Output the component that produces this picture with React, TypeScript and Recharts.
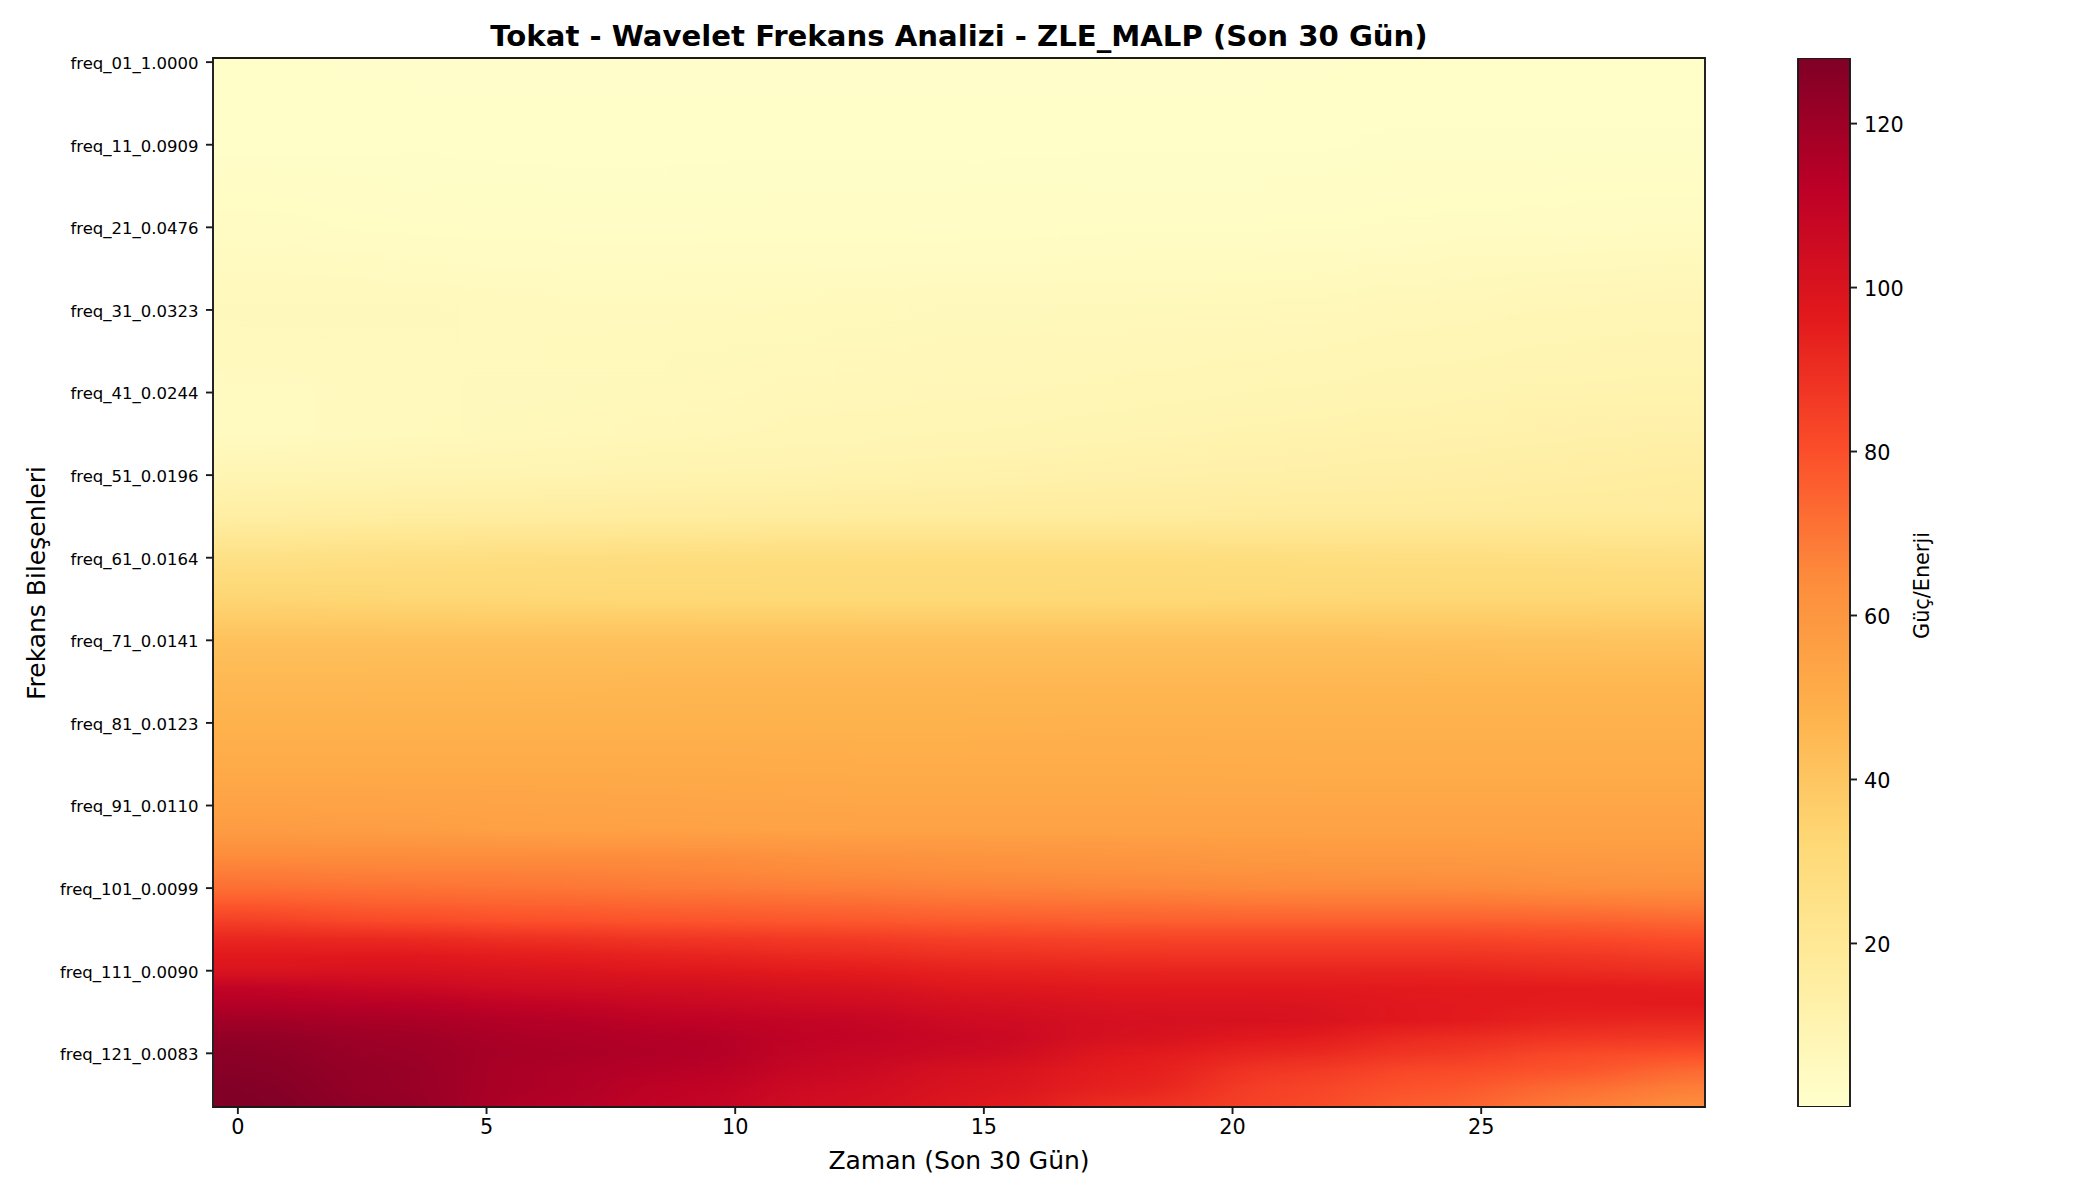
import React from 'react';
import { ScatterChart, Scatter, XAxis, YAxis, ReferenceArea, ComposedChart, Bar } from 'recharts';

const FONT = '"DejaVu Sans", sans-serif';
const TITLE = 'Tokat - Wavelet Frekans Analizi - ZLE_MALP (Son 30 Gün)';
const X_LABEL = 'Zaman (Son 30 Gün)';
const Y_LABEL = 'Frekans Bileşenleri';
const CBAR_LABEL = 'Güç/Enerji';

const xTicks = [0, 5, 10, 15, 20, 25];
const yTicks = [0, 10, 20, 30, 40, 50, 60, 70, 80, 90, 100, 110, 120];
const yTickLabels = [
  'freq_01_1.0000', 'freq_11_0.0909', 'freq_21_0.0476', 'freq_31_0.0323', 'freq_41_0.0244',
  'freq_51_0.0196', 'freq_61_0.0164', 'freq_71_0.0141', 'freq_81_0.0123', 'freq_91_0.0110',
  'freq_101_0.0099', 'freq_111_0.0090', 'freq_121_0.0083',
];
const cbarTicks = [20, 40, 60, 80, 100, 120];
const CBAR_MIN = 0.05;
const CBAR_MAX = 128;

const ylOrRd = ['#ffffcc', '#ffeda0', '#fed976', '#feb24c', '#fd8d3c', '#fc4e2a', '#e31a1c', '#bd0026', '#800026'];

const sampledCols = [0, 3, 6, 9, 12, 15, 18, 21, 24, 27, 29];
const sampledRows = [0, 10, 20, 30, 40, 45, 50, 55, 60, 65, 70, 75, 80, 85, 90, 93, 96, 98, 100, 102, 104, 106, 108, 110, 112, 114, 116, 118, 120, 122, 124, 126];

const r000 = [1, 0.8, 0.7, 0.7, 0.8, 0.8, 0.8, 0.9, 1, 1, 1];
const r010 = [1.5, 1.4, 1.3, 1.3, 1.4, 1.4, 1.5, 1.6, 1.7, 1.7, 1.8];
const r020 = [3.5, 3, 2.6, 2.5, 2.5, 2.6, 2.8, 3, 3.3, 3.6, 4];
const r030 = [6, 5.8, 5.6, 5.6, 5.7, 5.8, 6.2, 6.6, 7.2, 7.9, 8.5];
const r040 = [4.5, 5.2, 6, 6.6, 7.2, 7.8, 8.4, 9, 9.8, 10.4, 11];
const r045 = [4.5, 5.5, 6.5, 7.5, 8.5, 9.2, 10, 10.8, 11.6, 12.4, 13];
const r050 = [9, 9.5, 10, 10.5, 11, 11.7, 12.4, 13.2, 14, 15, 16];
const r055 = [15, 15.5, 16, 16.4, 16.8, 17, 17.2, 17.4, 17.6, 17.8, 18];
const r060 = [26, 27, 28, 28.5, 29, 29, 28.8, 28.4, 28, 27.5, 27];
const r065 = [33.5, 33, 32.5, 32.2, 32, 32, 32.2, 32.5, 32.8, 33, 33];
const r070 = [42, 42, 42, 42, 42, 42, 42, 41.8, 41.5, 41.2, 41];
const r075 = [45.5, 45.5, 45.6, 45.8, 46, 46, 46, 46, 46, 46, 46];
const r080 = [48, 48, 48, 48, 48, 48.2, 48.3, 48.4, 48.5, 48.5, 48.5];
const r085 = [51, 51, 51, 51, 50.8, 50.6, 50.4, 50.3, 50.2, 50.1, 50];
const r090 = [55, 54.5, 54, 53.5, 53.2, 53, 53, 53, 53, 53, 53];
const r093 = [58, 57, 56, 55.5, 55, 55, 55, 55, 55, 55, 55];
const r096 = [64, 64, 64, 63.5, 62, 61, 60, 59, 59, 58, 58];
const r098 = [68, 67, 67, 66, 64.5, 63.5, 62.5, 62, 61.5, 60.5, 60];
const r100 = [72, 71, 70, 69, 68, 67, 66, 65, 65, 64, 63];
const r102 = [78, 76, 75, 74, 73, 71.5, 71, 70, 70, 69, 68];
const r104 = [85, 82, 80, 79, 78, 77, 76, 76, 76, 75.5, 74];
const r106 = [92, 91, 89, 87, 86, 84, 83, 83, 83, 82, 80];
const r108 = [96.5, 97, 95, 93, 91, 89, 88, 88, 88, 87, 85];
const r110 = [100, 101, 100, 98, 96, 94, 93, 93, 93, 91, 90];
const r112 = [110, 107, 104, 103, 101, 98, 97, 97, 96, 96, 95];
const r114 = [114, 113, 110, 107, 105, 102, 100, 100, 97, 95.5, 96.5];
const r116 = [119, 117, 114, 111, 109, 105, 102, 101, 97, 93, 92];
const r118 = [123, 120, 116, 114, 110, 107, 101, 97, 91, 88, 87];
const r120 = [125, 121, 117, 115, 108.5, 105.5, 97, 92, 87, 82, 80];
const r122 = [126, 122, 116, 113, 107, 101, 95, 87, 82, 79, 73];
const r124 = [127.5, 122, 116, 111, 105, 100, 94, 84, 79, 73, 68];
const r126 = [128, 123, 115, 110, 103.5, 98, 90, 83, 76, 69, 64];

const rowValues = [r000, r010, r020, r030, r040, r045, r050, r055, r060, r065, r070, r075, r080, r085, r090, r093, r096, r098, r100, r102, r104, r106, r108, r110, r112, r114, r116, r118, r120, r122, r124, r126];

const cells = sampledRows.flatMap((row, ri) =>
  sampledCols.map((col, ci) => ({ col, row, ri, ci, value: rowValues[ri][ci] })),
);
const cbarData = [{ name: 'scale', top: CBAR_MAX }];

const W = 2100;
const H = 1200;
const PLOT = { left: 213, top: 58, right: 1705, bottom: 1107 };
const PX_COL = (PLOT.right - PLOT.left) / 30;
const PX_ROW = (PLOT.bottom - PLOT.top) / 127;
const AXIS_W = 150;
const AXIS_H = 50;
const LW = 1.9;

function hex(c: string) {
  return [1, 3, 5].map((i) => parseInt(c.slice(i, i + 2), 16));
}
function colorOf(v: number) {
  const t = Math.max(0, Math.min(1, v / CBAR_MAX)) * (ylOrRd.length - 1);
  const i = Math.min(ylOrRd.length - 2, Math.floor(t));
  const a = hex(ylOrRd[i]);
  const b = hex(ylOrRd[i + 1]);
  const f = t - i;
  return `rgb(${a.map((x, k) => Math.round(x + (b[k] - x) * f)).join(',')})`;
}

function HeatCell(props: any) {
  const { cx, cy, payload } = props;
  const { col, row, ri, ci, value } = payload;
  const prevCol = ci > 0 ? sampledCols[ci - 1] : null;
  const nextCol = ci < sampledCols.length - 1 ? sampledCols[ci + 1] : null;
  const x0 = prevCol === null ? cx - 300 : cx - ((col - prevCol) / 2) * PX_COL;
  const x1 = nextCol === null ? cx + 300 : cx + ((nextCol - col) / 2) * PX_COL;
  const hasNext = ri < sampledRows.length - 1;
  const yBottom = hasNext ? cy + (sampledRows[ri + 1] - row) * PX_ROW : cy + 1.5 * PX_ROW;
  const nextValue = hasNext ? rowValues[ri + 1][ci] : value;
  const id = `cell-${ri}-${ci}`;
  const topFill = colorOf(value);
  return (
    <g>
      <defs>
        <linearGradient id={id} x1="0" y1="0" x2="0" y2="1">
          <stop offset="0" stopColor={topFill} />
          <stop offset="1" stopColor={colorOf(nextValue)} />
        </linearGradient>
      </defs>
      {ri === 0 && <rect x={x0} y={cy - 12} width={x1 - x0 + 1} height={13} fill={topFill} />}
      <rect x={x0} y={cy} width={x1 - x0 + 1} height={yBottom - cy + (hasNext ? 0.8 : 0)} fill={`url(#${id})`} />
    </g>
  );
}

const tickStyle = { fontFamily: FONT, fontSize: 20.8, fill: '#000' };
const tickLine = { stroke: '#1a1a1a', strokeWidth: LW };
const INSET = LW / 2;

export default function App() {
  return (
    <div style={{ position: 'absolute', left: 0, top: 0, width: W, height: H, background: '#fff' }}>
      <style>{`.heat-layer{filter:url(#heat-blur);clip-path:url(#heat-clip);}`}</style>
      <svg width={0} height={0} style={{ position: 'absolute' }}>
        <defs>
          <filter id="heat-blur" filterUnits="userSpaceOnUse" x={-400} y={0} width={W + 800} height={H} colorInterpolationFilters="sRGB">
            <feGaussianBlur stdDeviation="43 0" />
          </filter>
          <clipPath id="heat-clip" clipPathUnits="userSpaceOnUse">
            <rect x={PLOT.left + INSET} y={PLOT.top + INSET} width={PLOT.right - PLOT.left - 2 * INSET} height={PLOT.bottom - PLOT.top - 2 * INSET} />
          </clipPath>
          <linearGradient id="cbar-fill" x1="0" y1="1" x2="0" y2="0">
            {ylOrRd.map((c, i) => (
              <stop key={c} offset={i / (ylOrRd.length - 1)} stopColor={c} />
            ))}
          </linearGradient>
        </defs>
      </svg>
      <div style={{ position: 'absolute', left: 0, top: 0 }}>
        <ScatterChart
          width={W}
          height={H}
          margin={{ top: PLOT.top, left: PLOT.left - AXIS_W, right: W - PLOT.right, bottom: H - PLOT.bottom - AXIS_H }}
        >
          <XAxis
            type="number"
            dataKey="col"
            domain={[-0.5, 29.5]}
            ticks={xTicks}
            interval={0}
            height={AXIS_H}
            axisLine={false}
            tickLine={tickLine}
            tickSize={7}
            tickMargin={5}
            tick={tickStyle}
          />
          <YAxis
            type="number"
            dataKey="row"
            reversed
            domain={[-0.5, 126.5]}
            ticks={yTicks}
            interval={0}
            width={AXIS_W}
            axisLine={false}
            tickLine={tickLine}
            tickSize={7}
            tickMargin={7.5}
            tick={{ ...tickStyle, fontSize: 16.5, dy: 1 }}
            tickFormatter={(v: number) => yTickLabels[yTicks.indexOf(v)]}
          />
          <Scatter className="heat-layer" data={cells} shape={HeatCell} isAnimationActive={false} legendType="none" />
          <ReferenceArea x1={-0.5} x2={29.5} y1={-0.5} y2={126.5} fill="none" stroke="#1a1a1a" strokeWidth={LW} />
          <text x={959} y={46} textAnchor="middle" fontFamily={FONT} fontSize={29.17} fontWeight="bold" fill="#000">
            {TITLE}
          </text>
          <text x={959} y={1168.5} textAnchor="middle" fontFamily={FONT} fontSize={25} fill="#000">
            {X_LABEL}
          </text>
          <text x={0} y={0} transform="translate(45 583) rotate(-90)" textAnchor="middle" fontFamily={FONT} fontSize={25} fill="#000">
            {Y_LABEL}
          </text>
        </ScatterChart>
      </div>
      <div style={{ position: 'absolute', left: 0, top: 0 }}>
        <ComposedChart
          width={W}
          height={H}
          data={cbarData}
          barCategoryGap={0}
          margin={{ top: PLOT.top, left: 1798, right: W - 1850 - 100, bottom: H - PLOT.bottom }}
        >
          <XAxis dataKey="name" hide />
          <YAxis
            orientation="right"
            domain={[CBAR_MIN, CBAR_MAX]}
            ticks={cbarTicks}
            interval={0}
            allowDataOverflow
            width={100}
            axisLine={false}
            tickLine={tickLine}
            tickSize={7}
            tickMargin={7}
            tick={{ ...tickStyle, dy: 1 }}
          />
          <Bar dataKey="top" fill="url(#cbar-fill)" stroke="#1a1a1a" strokeWidth={LW} isAnimationActive={false} />
          <text x={0} y={0} transform="translate(1929 585.5) rotate(-90)" textAnchor="middle" fontFamily={FONT} fontSize={20.8} fill="#000">
            {CBAR_LABEL}
          </text>
        </ComposedChart>
      </div>
    </div>
  );
}
